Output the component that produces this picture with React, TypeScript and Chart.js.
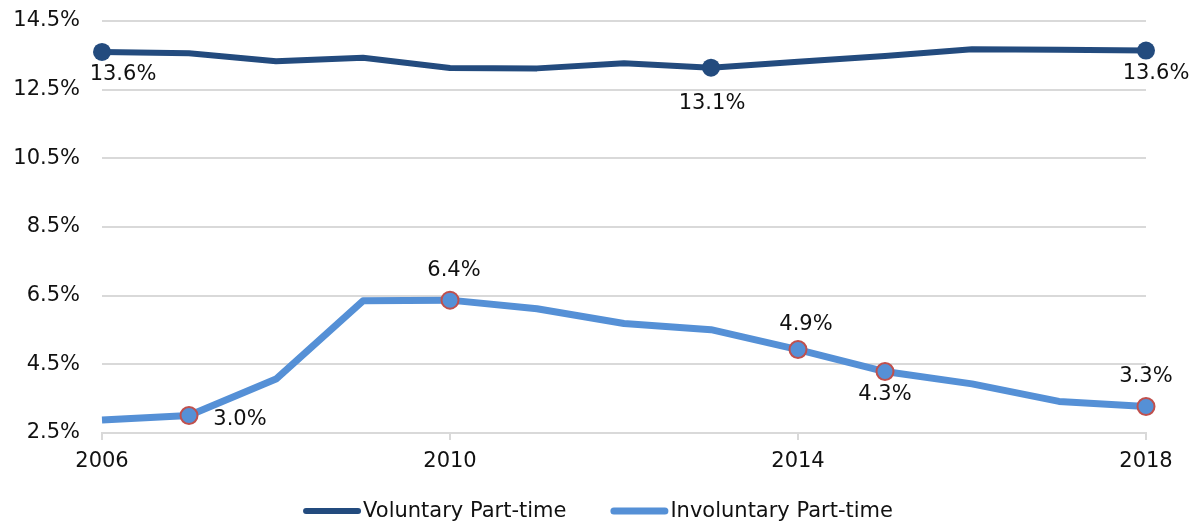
import React, { useEffect, useRef } from "react";
import { Chart, registerables } from "chart.js";

Chart.register(...registerables);

// ---- data ----
const years = [2006, 2007, 2008, 2009, 2010, 2011, 2012, 2013, 2014, 2015, 2016, 2017, 2018];
const voluntary = [13.6, 13.56, 13.33, 13.43, 13.13, 13.12, 13.27, 13.14, 13.31, 13.48, 13.68, 13.66, 13.64];
const involuntary = [2.88, 3.01, 4.07, 6.35, 6.37, 6.12, 5.69, 5.51, 4.93, 4.29, 3.93, 3.42, 3.27];
const yTicks = [2.5, 4.5, 6.5, 8.5, 10.5, 12.5, 14.5];
const xTicks = [2006, 2010, 2014, 2018];
const seriesNames = ["Voluntary Part-time", "Involuntary Part-time"];
const voluntaryMarked = [0, 7, 12];
const involuntaryMarked = [1, 4, 8, 9, 12];

// label placement (offsets from point, px)
const labelSpecs = [
  { ds: 0, i: 0, dx: 21, dy: 23 },
  { ds: 0, i: 7, dx: 1, dy: 36 },
  { ds: 0, i: 12, dx: 10, dy: 23 },
  { ds: 1, i: 1, dx: 51, dy: 4 },
  { ds: 1, i: 4, dx: 4, dy: -30 },
  { ds: 1, i: 8, dx: 8, dy: -25 },
  { ds: 1, i: 9, dx: 0, dy: 23 },
  { ds: 1, i: 12, dx: 0, dy: -30 },
];

const FONT = "'DejaVu Sans', Verdana, sans-serif";
const TEXT = "#111111";
const C_VOL = "#234B7E";
const C_INV = "#5590D6";
const C_RED = "#C0504D";
const GRID = "#D9D9D9";

const labelPlugin = {
  id: "pointLabels",
  afterDatasetsDraw(chart: any) {
    const ctx = chart.ctx;
    ctx.save();
    ctx.font = `21px ${FONT}`;
    ctx.fillStyle = TEXT;
    ctx.textAlign = "center";
    ctx.textBaseline = "middle";
    labelSpecs.forEach((s) => {
      const pt = chart.getDatasetMeta(s.ds).data[s.i];
      const v = chart.data.datasets[s.ds].data[s.i].y;
      ctx.fillText(v.toFixed(1) + "%", pt.x + s.dx, pt.y + s.dy);
    });
    ctx.restore();
  },
};

const legendPlugin = {
  id: "customLegend",
  afterDraw(chart: any) {
    const ctx = chart.ctx;
    ctx.save();
    ctx.font = `21px ${FONT}`;
    const sample = 58;
    const gap = 2;
    const between = 44;
    const widths = seriesNames.map((n) => ctx.measureText(n).width);
    const total = widths.reduce((a, w) => a + sample + gap + w, 0) + between;
    let x = (chart.width - total) / 2 - 2;
    const y = 511;
    const colors = [C_VOL, C_INV];
    const lw = [6, 7];
    seriesNames.forEach((n, k) => {
      ctx.strokeStyle = colors[k];
      ctx.lineWidth = lw[k];
      ctx.lineCap = "round";
      ctx.beginPath();
      ctx.moveTo(x + lw[k] / 2, y);
      ctx.lineTo(x + sample - lw[k] / 2, y);
      ctx.stroke();
      ctx.fillStyle = TEXT;
      ctx.textAlign = "left";
      ctx.textBaseline = "middle";
      ctx.fillText(n, x + sample + gap, y + 1);
      x += sample + gap + widths[k] + between;
    });
    ctx.restore();
  },
};

export default function App() {
  const ref = useRef<HTMLCanvasElement>(null);
  useEffect(() => {
    if (!ref.current) return;
    const chart = new Chart(ref.current, {
      type: "line",
      data: {
        datasets: [
          {
            label: seriesNames[0],
            data: years.map((y, i) => ({ x: y, y: voluntary[i] })),
            borderColor: C_VOL,
            backgroundColor: C_VOL,
            borderWidth: 6,
            borderCapStyle: "round",
            borderJoinStyle: "round",
            tension: 0,
            clip: false,
            pointRadius: (c: any) => (voluntaryMarked.includes(c.dataIndex) ? 9 : 0),
            pointBorderWidth: 0,
            pointBackgroundColor: C_VOL,
            pointBorderColor: C_VOL,
          },
          {
            label: seriesNames[1],
            data: years.map((y, i) => ({ x: y, y: involuntary[i] })),
            borderColor: C_INV,
            backgroundColor: C_INV,
            borderWidth: 7,
            borderCapStyle: "butt",
            borderJoinStyle: "round",
            tension: 0,
            clip: false,
            pointRadius: (c: any) => (involuntaryMarked.includes(c.dataIndex) ? 8.5 : 0),
            pointBorderWidth: 2,
            pointBackgroundColor: C_INV,
            pointBorderColor: C_RED,
          },
        ],
      },
      options: {
        animation: false,
        responsive: false,
        layout: { padding: { top: 21, right: 54, left: 0, bottom: 40 } },
        plugins: {
          legend: { display: false },
          tooltip: { enabled: false },
        },
        scales: {
          x: {
            type: "linear",
            min: years[0],
            max: years[years.length - 1],
            afterBuildTicks: (s: any) => {
              s.ticks = xTicks.map((v) => ({ value: v }));
            },
            afterFit: (s: any) => {
              s.height = 52;
              s.paddingTop = 0;
              s.paddingBottom = 0;
            },
            ticks: {
              callback: (v: any) => String(v),
              font: { family: FONT, size: 21 },
              color: TEXT,
              padding: 9,
              maxRotation: 0,
            },
            grid: {
              drawOnChartArea: false,
              drawTicks: true,
              tickLength: 7,
              color: GRID,
              lineWidth: 2,
            },
            border: { display: true, color: GRID, width: 2 },
          },
          y: {
            min: yTicks[0],
            max: yTicks[yTicks.length - 1],
            afterBuildTicks: (s: any) => {
              s.ticks = yTicks.map((v) => ({ value: v }));
            },
            afterFit: (s: any) => {
              s.width = 102;
              s.paddingTop = 0;
              s.paddingBottom = 0;
            },
            ticks: {
              callback: (v: any) => Number(v).toFixed(1) + "%",
              font: { family: FONT, size: 21 },
              color: TEXT,
              padding: 22,
            },
            grid: { color: GRID, lineWidth: 2, drawTicks: false },
            border: { display: false },
          },
        },
      },
      plugins: [labelPlugin, legendPlugin],
    } as any);
    return () => chart.destroy();
  }, []);
  return (
    <div style={{ position: "absolute", left: 0, top: 0, width: 1200, height: 525, background: "#fff" }}>
      <canvas ref={ref} width={1200} height={525} style={{ display: "block" }} />
    </div>
  );
}
